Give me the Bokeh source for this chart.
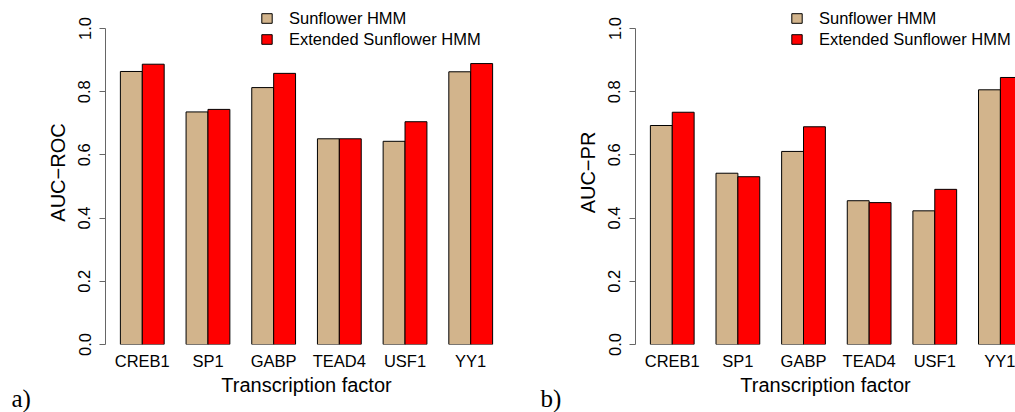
from bokeh.plotting import figure
from bokeh.layouts import row
from bokeh.models import (Range1d, FixedTicker, NumeralTickFormatter, Legend,
                          LegendItem, Title, ColumnDataSource)
from bokeh.embed import file_html
from bokeh.resources import INLINE

factors = ["CREB1", "SP1", "GABP", "TEAD4", "USF1", "YY1"]
series_names = ["Sunflower HMM", "Extended Sunflower HMM"]
roc_sunflower = [0.864, 0.736, 0.813, 0.651, 0.643, 0.863]
roc_extended = [0.887, 0.744, 0.858, 0.651, 0.705, 0.889]
pr_sunflower = [0.693, 0.542, 0.611, 0.455, 0.423, 0.806]
pr_extended = [0.735, 0.531, 0.689, 0.449, 0.491, 0.845]
y_ticks = [0.0, 0.2, 0.4, 0.6, 0.8, 1.0]

TAN = "#D2B48C"
RED = "#FF0000"
SANS = "Liberation Sans"
AXCOL = "#666666"
H = 412
FRAME_BOTTOM = 344
PX_PER_UNIT = 316


def panel(sun, ext, ylabel, tag, tag_offset, width, x_end, border_left, border_right):
    p = figure(width=width, height=H, output_backend="svg", toolbar_location=None,
               x_range=Range1d(0.32, x_end),
               y_range=Range1d(0, FRAME_BOTTOM / PX_PER_UNIT),
               min_border_left=border_left, min_border_right=border_right,
               min_border_top=0, min_border_bottom=H - FRAME_BOTTOM)
    p.outline_line_color = None
    p.grid.visible = False
    p.background_fill_color = "white"
    p.border_fill_color = "white"

    centers = [3 * i + 2 for i in range(len(factors))]
    src = ColumnDataSource(dict(
        x1=[c - 0.5 for c in centers], x2=[c + 0.5 for c in centers],
        sun=sun, ext=ext))
    r1 = p.vbar(x="x1", top="sun", bottom=0, width=1, source=src,
                fill_color=TAN, line_color="black", line_width=1)
    r2 = p.vbar(x="x2", top="ext", bottom=0, width=1, source=src,
                fill_color=RED, line_color="black", line_width=1)

    xa = p.xaxis[0]
    xa.ticker = FixedTicker(ticks=centers)
    xa.major_label_overrides = {c: f for c, f in zip(centers, factors)}
    xa.axis_line_color = None
    xa.major_tick_line_color = None
    xa.minor_tick_line_color = None
    xa.major_tick_out = 0
    xa.major_label_standoff = 7
    xa.major_label_text_font = SANS
    xa.major_label_text_font_size = "16.5px"
    xa.major_label_text_color = "black"
    xa.axis_label = "Transcription factor"
    xa.axis_label_text_font = SANS
    xa.axis_label_text_font_size = "20px"
    xa.axis_label_text_font_style = "normal"
    xa.axis_label_text_color = "black"
    xa.axis_label_standoff = 1

    ya = p.yaxis[0]
    ya.ticker = FixedTicker(ticks=y_ticks)
    ya.formatter = NumeralTickFormatter(format="0.0")
    ya.bounds = (0, 1)
    ya.axis_line_color = AXCOL
    ya.major_tick_line_color = AXCOL
    ya.minor_tick_line_color = None
    ya.major_tick_out = 6
    ya.major_tick_in = 0
    ya.major_label_orientation = "vertical"
    ya.major_label_standoff = 9
    ya.major_label_text_font = SANS
    ya.major_label_text_font_size = "16.5px"
    ya.major_label_text_color = "black"
    ya.axis_label = ylabel
    ya.axis_label_text_font = SANS
    ya.axis_label_text_font_size = "20px"
    ya.axis_label_text_font_style = "normal"
    ya.axis_label_text_color = "black"
    ya.axis_label_standoff = 7

    legend = Legend(items=[LegendItem(label=series_names[0], renderers=[r1]),
                           LegendItem(label=series_names[1], renderers=[r2])],
                    location=(155, 295), orientation="vertical",
                    glyph_width=13, glyph_height=12, label_standoff=16,
                    spacing=1, padding=0, margin=0,
                    label_text_font=SANS, label_text_font_size="16.5px",
                    label_text_color="black", label_height=20,
                    border_line_color=None, background_fill_alpha=0)
    p.add_layout(legend, "center")

    # panel tag, placed in the bottom border and shifted left of the frame
    t = Title(text=tag, align="left", vertical_align="top", offset=tag_offset,
              standoff=-28, text_font="Liberation Serif", text_font_size="25px",
              text_font_style="normal", text_color="black")
    p.add_layout(t, "below")
    return p


left = panel(roc_sunflower, roc_extended, "AUC\u2212ROC", "a)", -94, 520, 18.68, 105, 13)
right = panel(pr_sunflower, pr_extended, "AUC\u2212PR", "b)", -95, 495, 17.69, 115, 0)

layout = row(left, right, spacing=0)
open("out.html", "w").write(file_html(layout, INLINE))
